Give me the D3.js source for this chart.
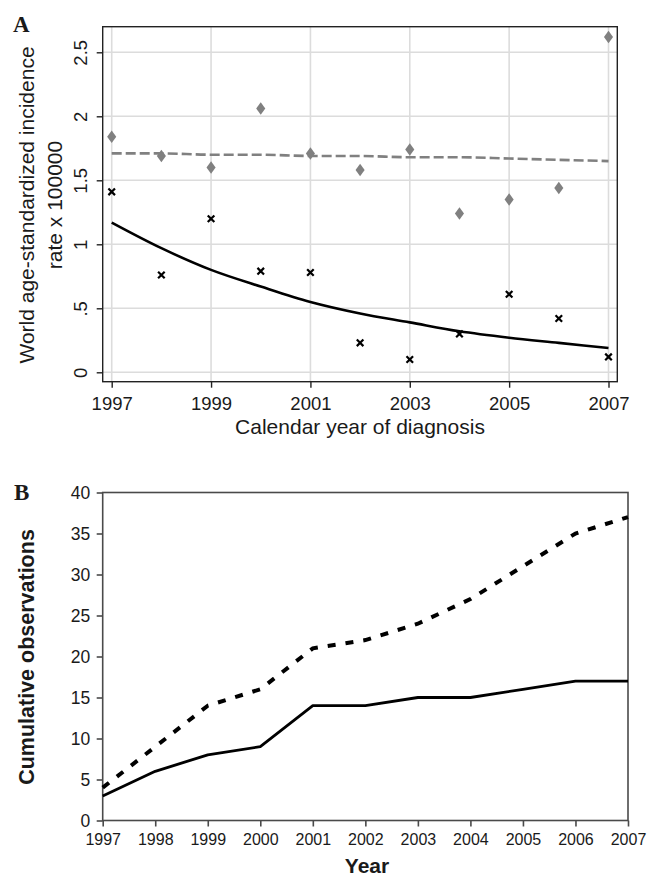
<!DOCTYPE html>
<html>
<head>
<meta charset="utf-8">
<script src="https://cdn.jsdelivr.net/npm/d3@7"></script>
<style>
  html, body { margin: 0; padding: 0; background: #fff; }
  svg { display: block; }
  text { font-family: "Liberation Sans", Arial, Helvetica, sans-serif; fill: #1a1a1a; }
</style>
</head>
<body>
<svg id="chart" width="652" height="877"></svg>
<script>
// ---------- Panel A data ----------
const yearsA = [1997, 1998, 1999, 2000, 2001, 2002, 2003, 2004, 2005, 2006, 2007];
const diamondsA = [1.84, 1.69, 1.60, 2.06, 1.71, 1.58, 1.74, 1.24, 1.35, 1.44, 2.62];
const crossesA = [1.41, 0.76, 1.20, 0.79, 0.78, 0.23, 0.10, 0.30, 0.61, 0.42, 0.12];
const fitSolidA = [1.17, 0.97, 0.80, 0.67, 0.55, 0.46, 0.39, 0.32, 0.27, 0.23, 0.19];
const fitDashedA = [1.71, 1.71, 1.70, 1.70, 1.69, 1.69, 1.68, 1.68, 1.67, 1.66, 1.65];
const xTicksA = [1997, 1999, 2001, 2003, 2005, 2007];
const yTicksA = [0, 0.5, 1, 1.5, 2, 2.5];
const yTickLabelsA = ["0", ".5", "1", "1.5", "2", "2.5"];

// ---------- Panel B data ----------
const yearsB = [1997, 1998, 1999, 2000, 2001, 2002, 2003, 2004, 2005, 2006, 2007];
const solidB = [3, 6, 8, 9, 14, 14, 15, 15, 16, 17, 17];
const dashedB = [4, 9, 14, 16, 21, 22, 24, 27, 31, 35, 37];
const yTicksB = [0, 5, 10, 15, 20, 25, 30, 35, 40];

const svg = d3.select("#chart");
svg.append("rect").attr("width", 652).attr("height", 877).attr("fill", "#fff");

// ================= PANEL A =================
const A = { left: 102.7, right: 617.3, top: 26.7, bottom: 381.7 };
const xA = d3.scaleLinear().domain([1997, 2007]).range([111.7, 608.5]);
const yA = d3.scaleLinear().domain([0, 2.5]).range([372.3, 52.3]);
const gA = svg.append("g");

// gridlines
gA.append("g").selectAll("line").data(xTicksA).join("line")
  .attr("x1", d => xA(d)).attr("x2", d => xA(d))
  .attr("y1", A.top).attr("y2", A.bottom)
  .attr("stroke", "#dcdcdc").attr("stroke-width", 1.6);
gA.append("g").selectAll("line").data(yTicksA).join("line")
  .attr("x1", A.left).attr("x2", A.right)
  .attr("y1", d => yA(d)).attr("y2", d => yA(d))
  .attr("stroke", "#dcdcdc").attr("stroke-width", 1.6);

// frame
gA.append("rect").attr("x", A.left).attr("y", A.top)
  .attr("width", A.right - A.left).attr("height", A.bottom - A.top)
  .attr("fill", "none").attr("stroke", "#222").attr("stroke-width", 1.4);

// y axis
const yAxisA = d3.axisLeft(yA).tickValues(yTicksA).tickSize(6)
  .tickFormat((d, i) => yTickLabelsA[i]);
const gyA = gA.append("g").attr("transform", `translate(${A.left},0)`).call(yAxisA);
gyA.select(".domain").remove();
gyA.selectAll(".tick line").attr("stroke", "#222").attr("stroke-width", 1.4);
gyA.selectAll(".tick text")
  .attr("x", null).attr("dy", null)
  .attr("transform", "translate(-15.5,0) rotate(-90)")
  .attr("text-anchor", "middle")
  .style("font-size", "18.5px").style("font-family", "Liberation Sans, Arial, sans-serif").attr("fill", "#1a1a1a");

// x axis
const xAxisA = d3.axisBottom(xA).tickValues(xTicksA).tickSize(6).tickFormat(d3.format("d"));
const gxA = gA.append("g").attr("transform", `translate(0,${A.bottom})`).call(xAxisA);
gxA.select(".domain").remove();
gxA.selectAll(".tick line").attr("stroke", "#222").attr("stroke-width", 1.4);
gxA.selectAll(".tick text")
  .attr("y", 15).attr("dy", "0.72em")
  .style("font-size", "18.5px").style("font-family", "Liberation Sans, Arial, sans-serif").attr("fill", "#1a1a1a");

// axis titles
gA.append("text").attr("x", 360).attr("y", 434).attr("text-anchor", "middle")
  .style("font-size", "21px").text("Calendar year of diagnosis");
const ytA = gA.append("text").attr("transform", "translate(0,205) rotate(-90)").attr("text-anchor", "middle")
  .style("font-size", "21px");
ytA.append("tspan").attr("x", 0).attr("y", 34).text("World age-standardized incidence");
ytA.append("tspan").attr("x", 0).attr("y", 62).text("rate x 100000");

// fitted lines
const lineA = (vals) => d3.line().x((d, i) => xA(yearsA[i])).y(d => yA(d)).curve(d3.curveMonotoneX)(vals);
gA.append("path").attr("d", lineA(fitDashedA)).attr("fill", "none")
  .attr("stroke", "#808080").attr("stroke-width", 2.6).attr("stroke-dasharray", "10,4");
gA.append("path").attr("d", lineA(fitSolidA)).attr("fill", "none")
  .attr("stroke", "#000").attr("stroke-width", 2.6);

// markers
gA.append("g").selectAll("path").data(diamondsA).join("path")
  .attr("d", d3.symbol(d3.symbolDiamond, 50))
  .attr("transform", (d, i) => `translate(${xA(yearsA[i])},${yA(d)}) scale(1.2,0.95)`)
  .attr("fill", "#808080");
gA.append("g").selectAll("path").data(crossesA).join("path")
  .attr("d", d3.symbol(d3.symbolX, 30))
  .attr("transform", (d, i) => `translate(${xA(yearsA[i])},${yA(d)})`)
  .attr("fill", "none").attr("stroke", "#000").attr("stroke-width", 2.2);

// panel letter
svg.append("text").attr("x", 13).attr("y", 32)
  .style("font-family", "Liberation Serif, Times New Roman, serif").style("font-weight", "bold")
  .style("font-size", "23px").attr("fill", "#000").text("A");

// ================= PANEL B =================
const B = { left: 102.7, right: 628, top: 492.5, bottom: 820.5 };
const xB = d3.scaleLinear().domain([1997, 2007]).range([B.left, B.right]);
const yB = d3.scaleLinear().domain([0, 40]).range([B.bottom, B.top]);
const gB = svg.append("g");

gB.append("rect").attr("x", B.left).attr("y", B.top)
  .attr("width", B.right - B.left).attr("height", B.bottom - B.top)
  .attr("fill", "none").attr("stroke", "#4a4a4a").attr("stroke-width", 1.6);

const yAxisB = d3.axisLeft(yB).tickValues(yTicksB).tickSize(6).tickPadding(7).tickFormat(d3.format("d"));
const gyB = gB.append("g").attr("transform", `translate(${B.left},0)`).call(yAxisB);
gyB.select(".domain").remove();
gyB.selectAll(".tick line").attr("stroke", "#4a4a4a").attr("stroke-width", 1.6);
gyB.selectAll(".tick text").attr("x", -12.5)
  .style("font-size", "17.5px").style("font-family", "Liberation Sans, Arial, sans-serif").attr("fill", "#1a1a1a");

const xAxisB = d3.axisBottom(xB).tickValues(yearsB).tickSize(6).tickFormat(d3.format("d"));
const gxB = gB.append("g").attr("transform", `translate(0,${B.bottom})`).call(xAxisB);
gxB.select(".domain").remove();
gxB.selectAll(".tick line").attr("stroke", "#4a4a4a").attr("stroke-width", 1.6);
gxB.selectAll(".tick text").attr("y", 13).attr("dy", "0.72em")
  .style("font-size", "16px").style("font-family", "Liberation Sans, Arial, sans-serif").attr("fill", "#1a1a1a");

gB.append("text").attr("x", 367).attr("y", 873).attr("text-anchor", "middle")
  .style("font-size", "21px").style("font-weight", "bold").text("Year");
gB.append("text").attr("transform", "translate(34,657) rotate(-90)").attr("text-anchor", "middle")
  .style("font-size", "21.5px").style("font-weight", "bold").text("Cumulative observations");

const lineB = d3.line().x((d, i) => xB(yearsB[i])).y(d => yB(d));
gB.append("path").attr("d", lineB(dashedB)).attr("fill", "none")
  .attr("stroke", "#000").attr("stroke-width", 4).attr("stroke-dasharray", "8,10");
gB.append("path").attr("d", lineB(solidB)).attr("fill", "none")
  .attr("stroke", "#000").attr("stroke-width", 2.8).attr("stroke-linejoin", "round");

svg.append("text").attr("x", 14).attr("y", 500)
  .style("font-family", "Liberation Serif, Times New Roman, serif").style("font-weight", "bold")
  .style("font-size", "23px").attr("fill", "#000").text("B");
</script>
</body>
</html>
